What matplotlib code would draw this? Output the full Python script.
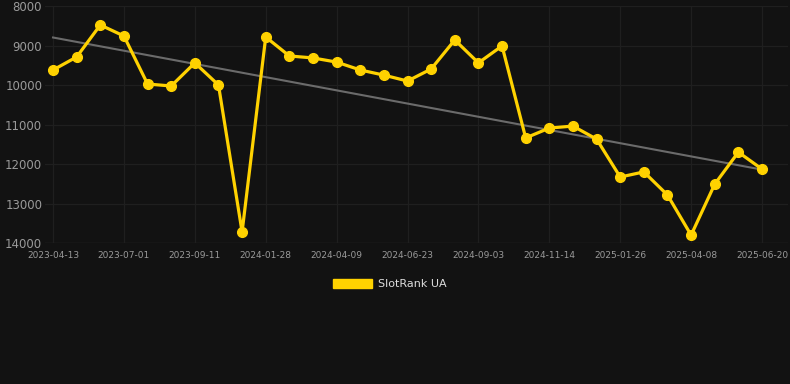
import matplotlib
matplotlib.use("Agg")
import matplotlib.pyplot as plt
from matplotlib.patches import Patch
import numpy as np

tick_labels = ["2023-04-13", "2023-07-01", "2023-09-11", "2024-01-28", "2024-04-09",
               "2024-06-23", "2024-09-03", "2024-11-14", "2025-01-26", "2025-04-08",
               "2025-06-20"]
ranks = [9620, 9290, 8480, 8760, 9975, 10025, 9440, 10000, 13720, 8785,
         9265, 9315, 9420, 9620, 9750, 9900, 9595, 8860, 9440, 9010,
         11340, 11090, 11040, 11370, 12330, 12200, 12785, 13800, 12510, 11700,
         12130]
series_name = "SlotRank UA"

bg = "#121212"
fig = plt.figure(figsize=(7.9, 3.84), dpi=100, facecolor=bg)
ax = fig.add_axes([45/790, 1-243/384, (788-45)/790, (243-6)/384])
ax.set_facecolor(bg)

x = np.arange(len(ranks))
coef = np.polyfit(x, ranks, 1)
ax.plot(x, np.polyval(coef, x), color="#6b6b6b", lw=1.5, zorder=2)
ax.plot(x, ranks, color="#FFD200", lw=2.3, marker="o", markersize=7,
        solid_joinstyle="miter", zorder=3)

ax.set_ylim(14000, 8000)
ax.set_yticks([8000, 9000, 10000, 11000, 12000, 13000, 14000])
ax.set_xlim(-0.34, 31.1)
ax.set_xticks(range(0, len(ranks), 3))
ax.set_xticklabels(tick_labels)

ax.grid(True, color="#1f1f1f", lw=0.9)
for s in ax.spines.values():
    s.set_visible(False)
ax.axhline(14000, color="#2e2e2e", lw=0.9, zorder=1)
ax.tick_params(axis="y", length=0, labelsize=8.5, labelcolor="#9a9a9a", pad=2)
ax.tick_params(axis="x", length=0, labelsize=6.5, labelcolor="#9a9a9a", pad=6)

handle = Patch(facecolor="#FFD200", edgecolor="#FFD200")
fig.legend([handle], [series_name], loc="center",
           bbox_to_anchor=(390/790, 1-284/384), frameon=False,
           handlelength=3.5, handleheight=0.9, handletextpad=0.5,
           labelcolor="#dddddd", prop={"size": 8})

fig.savefig("out.png", dpi=100, facecolor=bg)
